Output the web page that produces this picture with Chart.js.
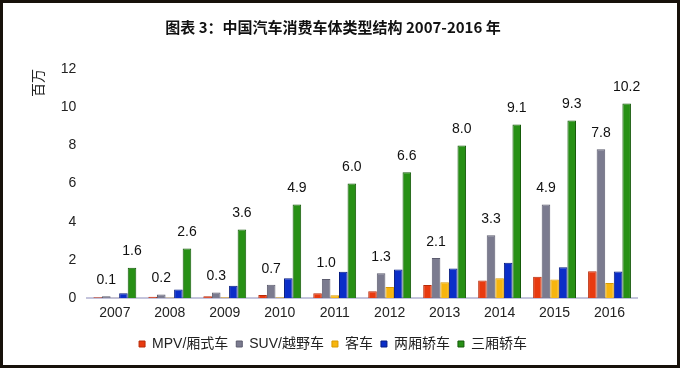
<!DOCTYPE html>
<html>
<head>
<meta charset="utf-8">
<script src="https://cdn.jsdelivr.net/npm/chart.js@4"></script>
<style>
  html, body { margin: 0; padding: 0; background: #fff; }
  #frame { width: 674px; height: 362px; border: 3px solid #17110a; position: relative; }
</style>
</head>
<body>
<div id="frame"><canvas id="chart" width="674" height="362"></canvas></div>
<script>
// 연도 (x축)
const years = ["2007", "2008", "2009", "2010", "2011", "2012", "2013", "2014", "2015", "2016"];

// 각 차체 유형별 판매량 (백만 대)
const mpv = [0.05, 0.07, 0.1, 0.17, 0.26, 0.36, 0.69, 0.93, 1.12, 1.41];
const suv = [0.1, 0.2, 0.3, 0.7, 1.0, 1.3, 2.1, 3.3, 4.9, 7.8];
const passenger = [0.02, 0.04, 0.05, 0.05, 0.15, 0.58, 0.84, 1.05, 0.98, 0.79];
const hatchback = [0.26, 0.45, 0.65, 1.05, 1.38, 1.5, 1.55, 1.86, 1.62, 1.4];
const sedan = [1.6, 2.6, 3.6, 4.9, 6.0, 6.6, 8.0, 9.1, 9.3, 10.2];

const yTicks = [0, 2, 4, 6, 8, 10, 12];

const font = "'Liberation Sans', 'Noto Sans CJK SC', sans-serif";

// 막대 위에 값 표시 (SUV, 三厢轿车만)
const valueLabels = {
  id: "valueLabels",
  afterDatasetsDraw(chart) {
    const ctx = chart.ctx;
    ctx.save();
    ctx.font = "14px " + font;
    ctx.fillStyle = "#111";
    ctx.textAlign = "center";
    ctx.textBaseline = "bottom";
    chart.data.datasets.forEach((ds, i) => {
      if (!ds.showValue) return;
      chart.getDatasetMeta(i).data.forEach((bar, j) => {
        ctx.fillText(ds.data[j].toFixed(1), bar.x, bar.y - 9);
      });
    });
    ctx.restore();
  }
};

const ctx = document.getElementById("chart").getContext("2d");
new Chart(ctx, {
  type: "bar",
  data: {
    labels: years,
    datasets: [
      { label: "MPV/厢式车", data: mpv, backgroundColor: "#e83a10", borderColor: "#b82a08" },
      { label: "SUV/越野车", data: suv, backgroundColor: "#7b7b8f", borderColor: "#5c5c6e", showValue: true },
      { label: "客车", data: passenger, backgroundColor: "#f7b50e", borderColor: "#d99a00" },
      { label: "两厢轿车", data: hatchback, backgroundColor: "#0b2ec8", borderColor: "#061c80" },
      { label: "三厢轿车", data: sedan, backgroundColor: "#279015", borderColor: "#155a0a", showValue: true }
    ].map(d => Object.assign(d, { borderWidth: 1, categoryPercentage: 0.78, barPercentage: 1 }))
  },
  options: {
    responsive: false,
    animation: false,
    layout: { padding: { left: 26, right: 40, bottom: 4 } },
    plugins: {
      title: {
        display: true,
        text: "图表 3：中国汽车消费车体类型结构 2007-2016 年",
        font: { family: "'Noto Sans CJK SC', sans-serif", size: 15, weight: "bold" },
        color: "#111",
        padding: { top: 15, bottom: 33 }
      },
      legend: {
        position: "bottom",
        labels: {
          font: { family: font, size: 14 },
          color: "#222",
          boxWidth: 6,
          boxHeight: 6,
          padding: 8
        }
      },
      tooltip: { enabled: false }
    },
    scales: {
      x: {
        grid: { display: false, drawTicks: false },
        border: { color: "#c4c4dc", width: 2 },
        ticks: { font: { family: font, size: 14 }, color: "#222", padding: 7 }
      },
      y: {
        min: 0,
        max: 12,
        afterBuildTicks: axis => { axis.ticks = yTicks.map(v => ({ value: v })); },
        grid: { display: false, drawTicks: false },
        border: { display: false },
        ticks: { font: { family: font, size: 14 }, color: "#222", padding: 11 },
        title: {
          display: true,
          text: "百万",
          align: "end",
          font: { family: "'Noto Sans CJK SC', sans-serif", size: 14 },
          color: "#222",
          padding: { top: 0, bottom: 4 }
        }
      }
    }
  },
  plugins: [valueLabels]
});
</script>
</body>
</html>
